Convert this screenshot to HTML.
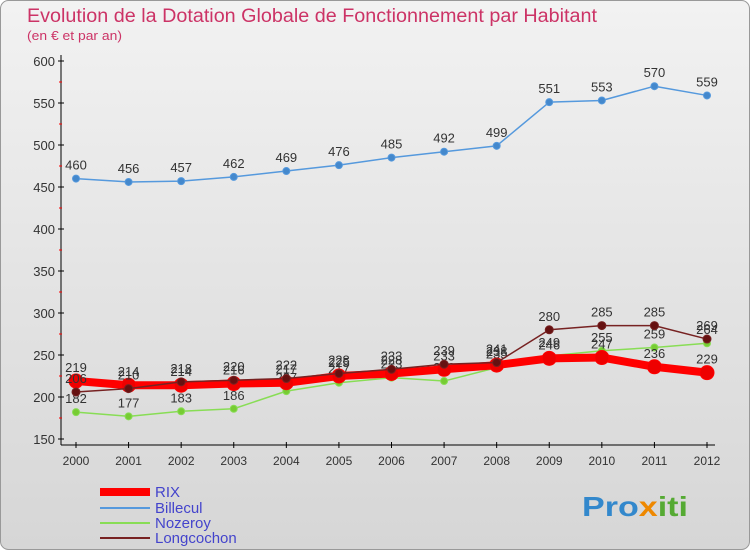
<!DOCTYPE html>
<html><head><meta charset="utf-8"><style>
body{margin:0;background:#fff;font-family:"Liberation Sans",sans-serif}
</style></head><body>
<svg width="750" height="550" xmlns="http://www.w3.org/2000/svg" font-family="Liberation Sans, sans-serif">
<defs><linearGradient id="bg" x1="0" y1="0" x2="0" y2="1"><stop offset="0" stop-color="#f2f2f2"/><stop offset="1" stop-color="#d6d6d6"/></linearGradient></defs>
<rect x="0.5" y="0.5" width="749" height="549" rx="8" fill="url(#bg)" stroke="#999"/>
<text x="27" y="22" font-size="19" fill="#cc3366" textLength="570" lengthAdjust="spacingAndGlyphs">Evolution de la Dotation Globale de Fonctionnement par Habitant</text>
<text x="27" y="40" font-size="13" fill="#cc3366" textLength="95" lengthAdjust="spacingAndGlyphs">(en € et par an)</text>
<g id="axes"></g><g id="series"></g>
<g>
<line x1="100" y1="492" x2="150" y2="492" stroke="#ff0000" stroke-width="8"/>
<text x="155" y="497" font-size="15" fill="#4444cc">RIX</text>
<line x1="100" y1="508" x2="150" y2="508" stroke="#5599dd" stroke-width="2"/>
<text x="155" y="513" font-size="15" fill="#4444cc">Billecul</text>
<line x1="100" y1="523" x2="150" y2="523" stroke="#88dd55" stroke-width="2"/>
<text x="155" y="528" font-size="15" fill="#4444cc">Nozeroy</text>
<line x1="100" y1="538" x2="150" y2="538" stroke="#772222" stroke-width="2"/>
<text x="155" y="543" font-size="15" fill="#4444cc">Longcochon</text>
</g>
<text x="582" y="516" font-size="28" font-weight="bold" fill="#3388cc" textLength="106" lengthAdjust="spacingAndGlyphs">Pro<tspan fill="#ee8800">x</tspan><tspan fill="#55aa33">iti</tspan></text>
</svg>
<script>
const years=["2000","2001","2002","2003","2004","2005","2006","2007","2008","2009","2010","2011","2012"];
const yTicks=[150,200,250,300,350,400,450,500,550,600];
const rix=[219,214,214,216,217,225,228,233,238,246,247,236,229];
const billecul=[460,456,457,462,469,476,485,492,499,551,553,570,559];
const nozeroy=[182,177,183,186,207,217,223,219,235,249,255,259,264];
const longcochon=[206,210,218,220,222,228,233,239,241,280,285,285,269];
const NS="http://www.w3.org/2000/svg";
const X=i=>76+i*(707-76)/(years.length-1);
const Y=v=>439-(v-150)*(439-61)/450;
function mk(t,a,p){const e=document.createElementNS(NS,t);for(const k in a)e.setAttribute(k,a[k]);p.appendChild(e);return e;}
const ax=document.getElementById('axes');
let l=mk('line',{x1:61,y1:55,x2:61,y2:445,stroke:'#000'},ax);


l=mk('line',{x1:61,y1:445,x2:715,y2:445,stroke:'#000'},ax);


yTicks.forEach((v,i)=>{
 const t=mk('line',{x1:58,y1:Y(v),x2:64,y2:Y(v),stroke:'#000'},ax);
 
 
 if(i<yTicks.length-1){const m=mk('line',{x1:59,y1:Y(v+25),x2:62,y2:Y(v+25),stroke:'#f00'},ax);
 
 }
 const tx=mk('text',{x:55,y:Y(v)+5,'text-anchor':'end','font-size':13,fill:'#333'},ax);tx.textContent=v;
 
 
});
years.forEach((y,i)=>{
 const t=mk('line',{x1:X(i),y1:442,x2:X(i),y2:448,stroke:'#000'},ax);
 
 
 const tx=mk('text',{x:X(i),y:465,'text-anchor':'middle','font-size':12,fill:'#333'},ax);tx.textContent=y;
 
 
});
const sg=document.getElementById('series');
function series(name,data,color,w,r,dot){
 const g=mk('g',{},sg);
 
 
 const p=mk('polyline',{points:data.map((v,i)=>X(i)+','+Y(v)).join(' '),fill:'none',stroke:color,'stroke-width':w,'stroke-linejoin':'round'},g);
 
 
 data.forEach((v,i)=>{
  const c=mk('circle',{cx:X(i),cy:Y(v),r:r,fill:dot,stroke:color,'stroke-width':1},g);
  
  
  const t=mk('text',{x:X(i),y:Y(v)-9,'text-anchor':'middle','font-size':13,fill:'#333'},g);t.textContent=v;
  
  
 });
}
series('billecul',billecul,'#5599dd',1.5,3.5,'#4488cc');
series('nozeroy',nozeroy,'#88dd55',1.5,3.5,'#77cc33');
series('rix',rix,'#ff0000',8,7,'#ee0000');
series('longcochon',longcochon,'#772222',1.5,4,'#661111');
</script>
</body></html>
